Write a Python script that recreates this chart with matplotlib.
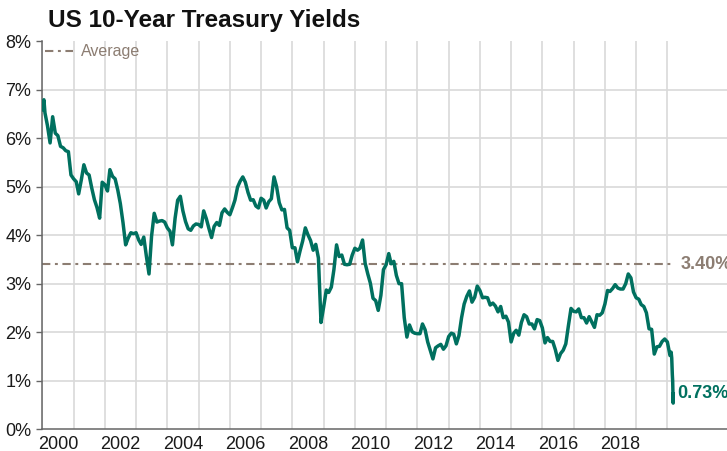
import matplotlib
matplotlib.use("Agg")
import matplotlib.pyplot as plt
import pandas as pd

plt.rcParams['font.family'] = ['Liberation Sans', 'DejaVu Sans']

# monthly 10y yields (%), one row per year
monthly_yield = [
    6.58, 6.52, 6.26, 5.90, 6.44, 6.10, 6.05, 5.83, 5.80, 5.74, 5.72, 5.24,  # 2000
    5.16, 5.10, 4.85, 5.14, 5.45, 5.28, 5.24, 4.97, 4.73, 4.57, 4.35, 5.09,  # 2001
    5.04, 4.91, 5.35, 5.21, 5.16, 4.93, 4.65, 4.26, 3.80, 3.94, 4.05, 4.03,  # 2002
    4.05, 3.90, 3.81, 3.96, 3.57, 3.20, 3.98, 4.45, 4.27, 4.29, 4.30, 4.27,  # 2003
    4.15, 4.08, 3.80, 4.35, 4.72, 4.80, 4.50, 4.28, 4.13, 4.10, 4.19, 4.23,  # 2004
    4.22, 4.17, 4.50, 4.34, 4.14, 3.95, 4.18, 4.26, 4.20, 4.46, 4.54, 4.47,  # 2005
    4.42, 4.57, 4.72, 4.99, 5.11, 5.20, 5.09, 4.88, 4.72, 4.73, 4.60, 4.56,  # 2006
    4.76, 4.72, 4.56, 4.69, 4.75, 5.20, 5.00, 4.67, 4.52, 4.53, 4.15, 4.10,  # 2007
    3.74, 3.74, 3.45, 3.68, 3.88, 4.15, 4.01, 3.89, 3.69, 3.81, 3.53, 2.20,  # 2008
    2.52, 2.87, 2.82, 2.93, 3.29, 3.80, 3.56, 3.59, 3.40, 3.39, 3.40, 3.59,  # 2009
    3.73, 3.69, 3.73, 3.90, 3.42, 3.20, 3.01, 2.70, 2.65, 2.45, 2.76, 3.29,  # 2010
    3.39, 3.62, 3.41, 3.46, 3.17, 3.00, 3.00, 2.30, 1.90, 2.15, 2.01, 1.98,  # 2011
    1.97, 1.97, 2.17, 2.05, 1.80, 1.62, 1.45, 1.68, 1.72, 1.75, 1.65, 1.72,  # 2012
    1.91, 1.98, 1.96, 1.76, 1.93, 2.30, 2.58, 2.74, 2.85, 2.62, 2.72, 2.95,  # 2013
    2.86, 2.71, 2.72, 2.71, 2.56, 2.60, 2.54, 2.42, 2.53, 2.30, 2.33, 2.21,  # 2014
    1.80, 1.98, 2.04, 1.94, 2.20, 2.36, 2.32, 2.17, 2.17, 2.07, 2.26, 2.24,  # 2015
    2.09, 1.78, 1.89, 1.81, 1.81, 1.64, 1.42, 1.56, 1.63, 1.76, 2.14, 2.49,  # 2016
    2.43, 2.42, 2.48, 2.30, 2.30, 2.19, 2.32, 2.21, 2.10, 2.36, 2.35, 2.40,  # 2017
    2.58, 2.86, 2.84, 2.90, 2.98, 2.91, 2.89, 2.89, 3.00, 3.20, 3.12, 2.83,  # 2018
    2.71, 2.68, 2.57, 2.53, 2.40, 2.07, 2.06, 1.55, 1.70, 1.71, 1.81, 1.86,  # 2019
    1.80,                                                                    # Jan 2020
]
# early 2000 spike and the 2020 drop, daily
head_dates = ["2000-01-20"]
head_yield = [6.79]
tail_dates = ["2020-02-01", "2020-02-14", "2020-02-21", "2020-02-28",
              "2020-03-03", "2020-03-06", "2020-03-09", "2020-03-10"]
tail_yield = [1.52, 1.59, 1.47, 1.13, 1.00, 0.74, 0.54, 0.73]

avg_yield = 3.40
y_ticks = [0, 1, 2, 3, 4, 5, 6, 7, 8]
label_years = [2000, 2002, 2004, 2006, 2008, 2010, 2012, 2014, 2016, 2018]

teal = "#00705f"
avg_col = "#8c7d72"

dates = list(pd.date_range("2000-01-01", periods=len(monthly_yield), freq="MS")) \
    + list(pd.to_datetime(head_dates)) + list(pd.to_datetime(tail_dates))
vals = monthly_yield + head_yield + tail_yield
df = pd.DataFrame({"date": dates, "yield": vals}).sort_values("date")

fig = plt.figure(figsize=(7.27, 4.51), dpi=100)
ax = fig.add_axes([42.3 / 727, 21.7 / 451, 1 - 42.3 / 727, 388.3 / 451])

ax.plot(df["date"], df["yield"], color=teal, lw=2.5, solid_joinstyle="round", zorder=3)
ax.plot([df["date"].iloc[0], df["date"].iloc[-1]], [avg_yield, avg_yield],
        color=avg_col, lw=1.5, dashes=(4, 2.2, 1.4, 2.2), zorder=2, label="Average")

ax.set_xlim(pd.Timestamp("2000-01-01"), pd.Timestamp("2021-11-28"))
ax.set_ylim(0, 8)

# year gridlines, labels centred mid-year
ax.set_xticks([pd.Timestamp(f"{y}-01-01") for y in range(2000, 2021)])
ax.set_xticklabels([])
ax.set_xticks([pd.Timestamp(f"{y}-07-02") for y in label_years], minor=True)
ax.set_xticklabels([str(y) for y in label_years], minor=True)
ax.tick_params(axis="x", which="both", length=0, pad=5, labelsize=13, labelcolor="#1a1a1a")

ax.set_yticks(y_ticks)
ax.set_yticklabels([f"{v}%" for v in y_ticks])
ax.tick_params(axis="y", length=4, width=1, color="#666666", pad=4,
               labelsize=13, labelcolor="#1a1a1a")

ax.grid(True, axis="x", which="major", color="#d9d9d9", lw=1.2)
for v in y_ticks[1:-1]:
    ax.axhline(v, color="#d9d9d9", lw=1.2, zorder=0)
ax.set_axisbelow(True)

for s in ["top", "right"]:
    ax.spines[s].set_visible(False)
for s in ["left", "bottom"]:
    ax.spines[s].set_color("#666666")
    ax.spines[s].set_linewidth(1.1)

leg = ax.legend(loc="upper left", bbox_to_anchor=(0.0, 1.0), frameon=False,
                handlelength=1.75, handletextpad=0.45, borderaxespad=0.1,
                borderpad=0.1, fontsize=11.5)
for t in leg.get_texts():
    t.set_color(avg_col)

end = df["date"].iloc[-1]
ax.annotate(f"{avg_yield:.2f}%", (end, avg_yield), xytext=(5, 0),
            textcoords="offset points", va="center", ha="left",
            fontsize=13, fontweight="bold", color=avg_col, annotation_clip=False)
ax.annotate(f"{tail_yield[-1]:.2f}%", (end, tail_yield[-1]), xytext=(3, 0),
            textcoords="offset points", va="center", ha="left",
            fontsize=13, fontweight="bold", color=teal, annotation_clip=False)

fig.text(48 / 727, 1 - 27 / 451, "US 10-Year Treasury Yields", fontsize=17.5,
         fontweight="bold", color="#111111", va="baseline", ha="left")

fig.savefig("out.png", dpi=100)
